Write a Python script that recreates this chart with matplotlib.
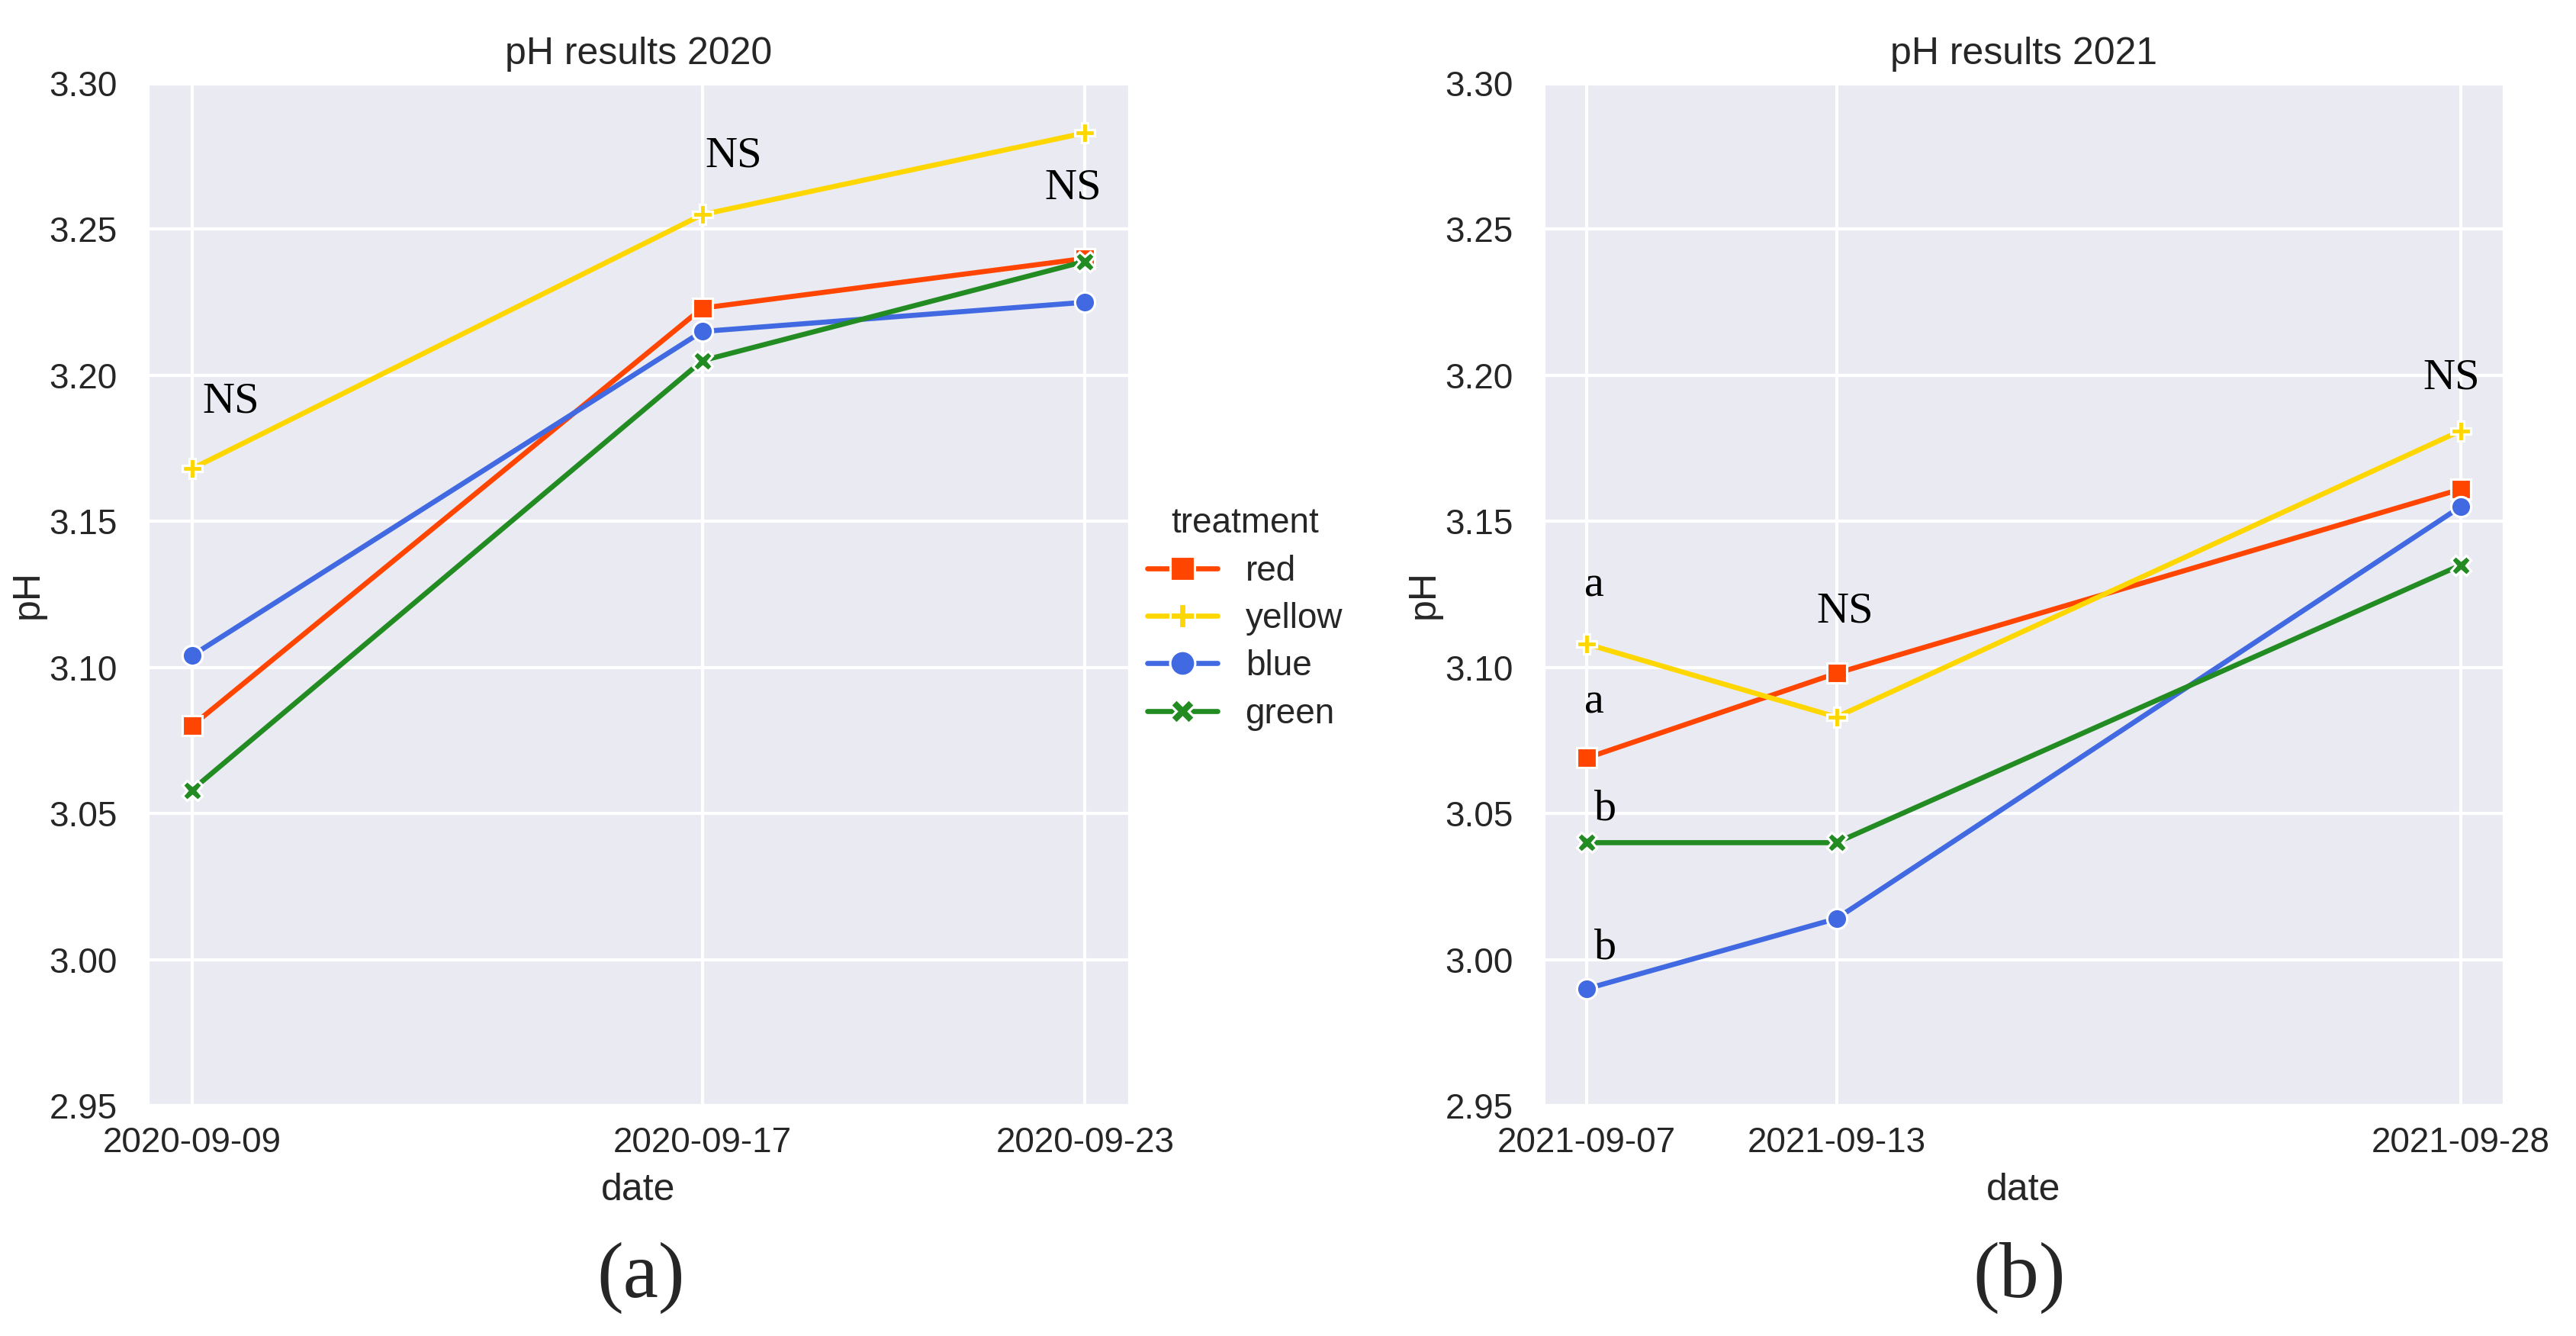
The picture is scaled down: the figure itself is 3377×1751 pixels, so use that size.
import numpy as np
import pandas as pd
import matplotlib
matplotlib.use("Agg")
import matplotlib.pyplot as plt
import matplotlib.dates as mdates
import seaborn as sns

# 样式设置
sns.set_theme(style="darkgrid")
plt.rcParams['font.family'] = ['Liberation Sans', 'DejaVu Sans']

treatments = ["red", "yellow", "blue", "green"]
colors = ["orangered", "gold", "royalblue", "forestgreen"]
markers = ["s", "P", "o", "X"]

# 2020 数据
dates_2020 = pd.to_datetime(["2020-09-09", "2020-09-17", "2020-09-23"])
red_2020 = [3.080, 3.223, 3.240]
yellow_2020 = [3.168, 3.255, 3.283]
blue_2020 = [3.104, 3.215, 3.225]
green_2020 = [3.058, 3.205, 3.239]

# 2021 数据
dates_2021 = pd.to_datetime(["2021-09-07", "2021-09-13", "2021-09-28"])
red_2021 = [3.069, 3.098, 3.161]
yellow_2021 = [3.108, 3.083, 3.181]
blue_2021 = [2.990, 3.014, 3.155]
green_2021 = [3.040, 3.040, 3.135]

# 显著性标记 (文本, 日期, pH)
sig_2020 = [("NS", "2020-09-09", 3.191), ("NS", "2020-09-17", 3.275), ("NS", "2020-09-23", 3.264)]
sig_2021 = [("a", "2021-09-07", 3.128), ("a", "2021-09-07", 3.088),
            ("b", "2021-09-07", 3.0515), ("b", "2021-09-07", 3.004),
            ("NS", "2021-09-13", 3.119), ("NS", "2021-09-28", 3.199)]
# 标记的水平偏移 (天)
sig_shift_2020 = [0.61, 0.49, -0.19]
sig_shift_2021 = [0.17, 0.17, 0.44, 0.44, 0.2, -0.22]

W, H = 3377, 1751
fig = plt.figure(figsize=(W / 300, H / 300), dpi=300)
ax1 = fig.add_axes([193 / W, 1 - 1449 / H, 1288 / W, 1340 / H])
ax2 = fig.add_axes([2023 / W, 1 - 1449 / H, 1260 / W, 1340 / H])


def draw_panel(ax, dates, series, title, sigs, shifts):
    lines = []
    for vals, name, c, m in zip(series, treatments, colors, markers):
        ln, = ax.plot(dates, vals, color=c, marker=m, markersize=6.3, lw=1.6,
                      mec="white", mew=0.75, label=name)
        lines.append(ln)
    ax.set_ylim(2.95, 3.30)
    ax.set_yticks(np.arange(2.95, 3.301, 0.05))
    ax.yaxis.set_major_formatter(matplotlib.ticker.FormatStrFormatter('%.2f'))
    ax.set_xticks(dates)
    ax.xaxis.set_major_formatter(mdates.DateFormatter('%Y-%m-%d'))
    ax.tick_params(axis='x', pad=plt.rcParams['xtick.major.pad'] - 3)
    ax.set_title(title, fontsize=12)
    ax.set_xlabel("date", fontsize=12)
    ax.set_ylabel("pH", fontsize=12, labelpad=1)
    for (txt, d, y), s in zip(sigs, shifts):
        ax.text(pd.Timestamp(d) + pd.Timedelta(days=s), y, txt, ha='center', va='center',
                fontsize=14, family=['Liberation Serif', 'DejaVu Serif'], color='black')
    return lines


lines = draw_panel(ax1, dates_2020, [red_2020, yellow_2020, blue_2020, green_2020],
                   "pH results 2020", sig_2020, sig_shift_2020)
draw_panel(ax2, dates_2021, [red_2021, yellow_2021, blue_2021, green_2021],
           "pH results 2021", sig_2021, sig_shift_2021)

fig.legend(handles=lines, labels=treatments, title="treatment", loc='center left',
           bbox_to_anchor=(1463 / W, 1 - 811 / H), frameon=False, fontsize=11,
           title_fontsize=11, markerscale=1.25, labelspacing=0.4)

fig.text(840 / W, 1 - 1675 / H, "(a)", ha='center', va='center', fontsize=25,
         family=['Liberation Serif', 'DejaVu Serif'])
fig.text(2647 / W, 1 - 1675 / H, "(b)", ha='center', va='center', fontsize=25,
         family=['Liberation Serif', 'DejaVu Serif'])

fig.savefig("out.png", dpi=300)
